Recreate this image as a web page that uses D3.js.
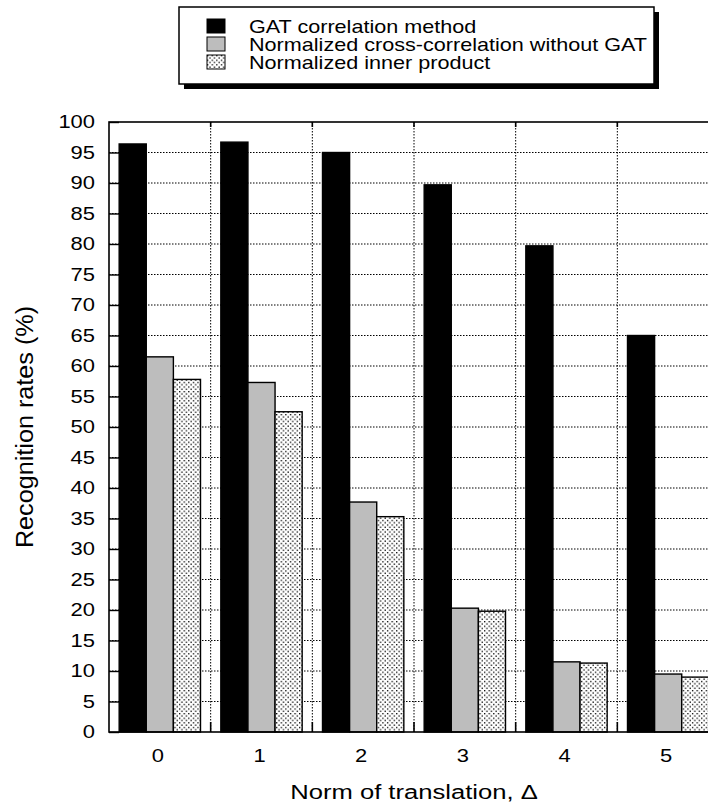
<!DOCTYPE html>
<html>
<head>
<meta charset="utf-8">
<script src="https://cdn.jsdelivr.net/npm/d3@7"></script>
<style>
	body { margin: 0; background: #fff; }
	svg { display: block; font-family: "Liberation Sans", Arial, sans-serif; }
</style>
</head>
<body>
<div id="chart"></div>
<script>
const categories = ["0", "1", "2", "3", "4", "5"];
const seriesNames = [
	"GAT correlation method",
	"Normalized cross-correlation without GAT",
	"Normalized inner product",
];
const gatValues = [96.4, 96.7, 95.0, 89.7, 79.7, 65.0];
const nccValues = [61.5, 57.3, 37.7, 20.3, 11.5, 9.5];
const nipValues = [57.8, 52.5, 35.3, 19.8, 11.3, 9.0];
const yTicks = d3.range(0, 101, 5);

render();

function render() {
	const width = 708;
	const height = 812;
	const plot = { left: 109, right: 719, top: 122, bottom: 732 };

	const svg = d3
		.select("#chart")
		.append("svg")
		.attr("width", width)
		.attr("height", height);

	// dotted fill for the third series
	const defs = svg.append("defs");
	const pat = defs
		.append("pattern")
		.attr("id", "stipple")
		.attr("patternUnits", "userSpaceOnUse")
		.attr("width", 4.6)
		.attr("height", 4.6);
	pat.append("rect").attr("width", 4.6).attr("height", 4.6).attr("fill", "#fff");
	pat.append("rect").attr("x", 0).attr("y", 0).attr("width", 1.3).attr("height", 1.3).attr("fill", "#000");
	pat.append("rect").attr("x", 2.3).attr("y", 2.3).attr("width", 1.3).attr("height", 1.3).attr("fill", "#000");

	const fills = ["#000", "#bdbdbd", "url(#stipple)"];
	const seriesValues = [gatValues, nccValues, nipValues];

	// scales
	const x = d3
		.scaleBand()
		.domain(categories)
		.range([plot.left, plot.right])
		.paddingInner(0.2)
		.paddingOuter(0.1);
	const xSub = d3
		.scaleBand()
		.domain(d3.range(seriesNames.length))
		.range([0, x.bandwidth()]);
	const y = d3.scaleLinear().domain([0, 100]).range([plot.bottom, plot.top]);

	const boundaries = categories.slice(0, -1).map((c) => x(c) + x.bandwidth() + x.step() * x.paddingInner() / 2);

	// grid
	const grid = svg.append("g").attr("stroke", "#000").attr("stroke-width", 1).attr("stroke-dasharray", "1.5,1.5");
	grid
		.selectAll("line.h")
		.data(yTicks.filter((d) => d > 0 && d < 100))
		.enter()
		.append("line")
		.attr("x1", plot.left)
		.attr("x2", plot.right)
		.attr("y1", (d) => y(d))
		.attr("y2", (d) => y(d));
	grid
		.selectAll("line.v")
		.data(boundaries)
		.enter()
		.append("line")
		.attr("x1", (d) => d)
		.attr("x2", (d) => d)
		.attr("y1", plot.top)
		.attr("y2", plot.bottom);

	// bars
	const groups = svg
		.append("g")
		.selectAll("g")
		.data(categories)
		.enter()
		.append("g")
		.attr("transform", (d) => `translate(${x(d)},0)`);
	groups
		.selectAll("rect")
		.data((d, i) => seriesValues.map((vals, s) => ({ s: s, v: vals[i] })))
		.enter()
		.append("rect")
		.attr("x", (d) => xSub(d.s))
		.attr("width", xSub.bandwidth())
		.attr("y", (d) => y(d.v))
		.attr("height", (d) => y(0) - y(d.v))
		.attr("fill", (d) => fills[d.s])
		.attr("stroke", "#000")
		.attr("stroke-width", 1.4);

	// frame and boundary ticks
	const frame = svg.append("g").attr("stroke", "#000").attr("stroke-width", 1.6);
	frame.append("rect")
		.attr("x", plot.left)
		.attr("y", plot.top)
		.attr("width", plot.right - plot.left)
		.attr("height", plot.bottom - plot.top)
		.attr("fill", "none");
	boundaries.forEach((b) => {
		frame.append("line").attr("x1", b).attr("x2", b).attr("y1", plot.bottom).attr("y2", plot.bottom - 10);
		frame.append("line").attr("x1", b).attr("x2", b).attr("y1", plot.top).attr("y2", plot.top + 5);
	});

	// y axis
	const tickScale = 1.22;
	const yAxis = svg
		.append("g")
		.attr("transform", `translate(${plot.left},0)`)
		.call(d3.axisLeft(y).tickValues(yTicks).tickSizeInner(-10).tickSizeOuter(0).tickPadding(14));
	yAxis.select(".domain").remove();
	yAxis.selectAll(".tick line").attr("stroke", "#000").attr("stroke-width", 1.4);
	yAxis
		.selectAll(".tick text")
		.attr("x", -14 / tickScale)
		.attr("transform", `scale(${tickScale},1)`)
		.attr("fill", "#000")
		.style("font-size", "18px");

	// x axis labels
	const xAxis = svg
		.append("g")
		.attr("transform", `translate(0,${plot.bottom})`)
		.call(d3.axisBottom(x).tickSize(0).tickPadding(0));
	xAxis.select(".domain").remove();
	xAxis
		.selectAll(".tick text")
		.attr("x", -2 / tickScale)
		.attr("y", 30)
		.attr("dy", 0)
		.attr("transform", `scale(${tickScale},1)`)
		.attr("fill", "#000")
		.style("font-size", "18px");

	// axis titles
	svg.append("text")
		.attr("transform", "translate(414,799) scale(1.28,1)")
		.attr("text-anchor", "middle")
		.style("font-size", "20px")
		.text("Norm of translation, \u0394");
	svg.append("text")
		.attr("transform", "translate(33,427) rotate(-90) scale(1.05,1)")
		.attr("text-anchor", "middle")
		.style("font-size", "24px")
		.text("Recognition rates (%)");

	// legend
	const legend = svg.append("g");
	legend.append("rect").attr("x", 184).attr("y", 12).attr("width", 475).attr("height", 77).attr("fill", "#000");
	legend.append("rect")
		.attr("x", 179)
		.attr("y", 7)
		.attr("width", 475)
		.attr("height", 77)
		.attr("fill", "#fff")
		.attr("stroke", "#000")
		.attr("stroke-width", 1.5);
	const rows = legend
		.selectAll("g.row")
		.data(seriesNames)
		.enter()
		.append("g")
		.attr("transform", (d, i) => `translate(0,${19 + i * 18})`);
	rows.append("rect")
		.attr("x", 207)
		.attr("y", 0)
		.attr("width", 18)
		.attr("height", 14)
		.attr("fill", (d, i) => fills[i])
		.attr("stroke", "#000")
		.attr("stroke-width", 1);
	rows.append("text")
		.attr("transform", "translate(249,13.5) scale(1.2,1)")
		.style("font-size", "18px")
		.text((d) => d);
}
</script>
</body>
</html>
